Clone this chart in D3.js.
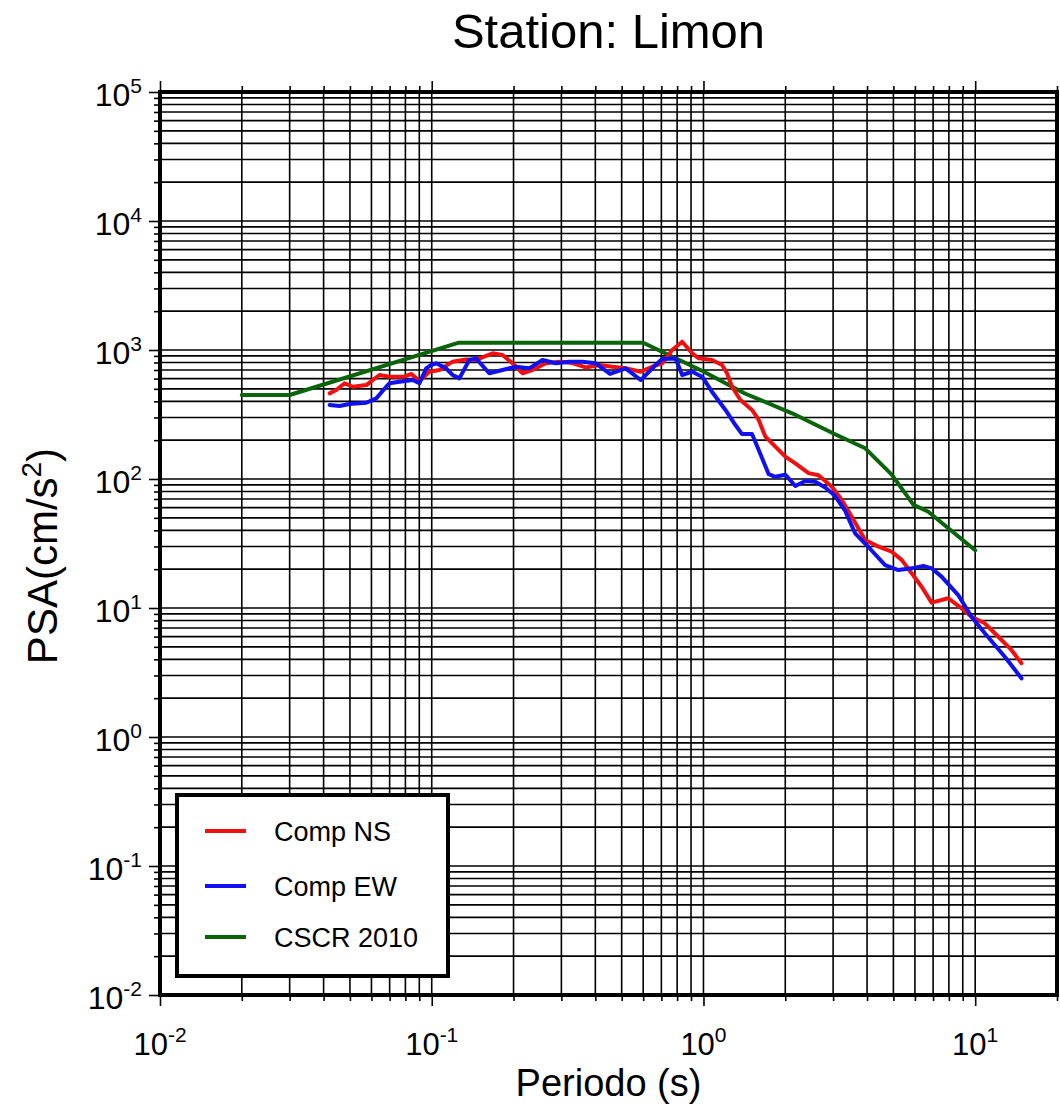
<!DOCTYPE html>
<html><head><meta charset="utf-8">
<script src="https://cdn.jsdelivr.net/npm/d3@7"></script>
<style>
body{margin:0;background:#fff}
text{font-family:"Liberation Sans",Arial,Helvetica,sans-serif;fill:#000}
</style>
</head><body>
<svg id="c" width="1060" height="1107"></svg>
<script>
// ---------------- DATA ----------------
const title = "Station: Limon";
const xTitle = "Periodo (s)";
const yTitleMain = "PSA(cm/s", yTitleSup = "2", yTitleEnd = ")";
const seriesNames = ["Comp NS", "Comp EW", "CSCR 2010"];
const seriesColors = ["#f01010", "#1010f0", "#0a640a"];

const periodNS = [0.0421,0.0445,0.0478,0.0513,0.0574,0.0642,0.0699,0.0793,0.0842,0.0901,0.098,0.1067,0.1194,0.1337,0.1447,0.1675,0.1822,0.1983,0.2159,0.2349,0.263,0.2943,0.3294,0.3687,0.4127,0.4618,0.5172,0.5873,0.6477,0.7048,0.7672,0.8348,0.9085,0.9614,1.076,1.171,1.221,1.274,1.368,1.509,1.597,1.69,1.839,2.001,2.178,2.437,2.651,2.968,3.229,3.514,3.936,4.405,4.928,5.363,5.837,6.351,6.913,7.96,8.907,9.69,10.85,11.81,13.59,14.8];
const psaNS = [461,490,552,519,535,640,621,621,652,575,679,700,812,844,836,943,915,789,660,700,789,812,793,732,765,742,721,679,742,789,1000,1160,943,862,836,765,660,519,410,343,287,213,178,149,132,111,107,87.1,68.7,51.0,33.7,29.9,27.3,23.6,18.6,14.6,11.0,11.9,9.94,8.56,7.61,6.37,4.73,3.73];

const periodEW = [0.0421,0.0458,0.0498,0.0574,0.0625,0.068,0.0699,0.0761,0.0851,0.0901,0.0954,0.0995,0.1038,0.1129,0.1194,0.1264,0.1375,0.1455,0.1628,0.1822,0.2041,0.2284,0.2556,0.2862,0.3202,0.3584,0.4014,0.453,0.5172,0.5873,0.6668,0.7048,0.7897,0.8348,0.9085,0.9886,1.076,1.205,1.311,1.386,1.509,1.597,1.738,1.839,2.001,2.178,2.37,2.579,2.806,3.053,3.323,3.616,4.047,4.66,5.216,5.837,6.444,6.913,7.52,8.66,9.69,10.85,12.85,14.8];
const psaEW = [375,368,381,390,422,519,552,568,585,552,721,765,789,721,640,603,836,862,660,700,742,721,836,789,812,812,789,652,721,585,765,852,859,640,679,621,473,343,262,223,223,168,109,104,108,88.3,96.5,95.3,85.9,73.8,56.5,37.9,29.7,21.5,19.7,20.3,21.2,20.3,17.5,12.6,8.56,6.37,4.19,2.85];

const periodCSCR = [0.02,0.03,0.125,0.6,1.0,1.42,2.12,3.05,3.94,4.93,5.93,6.7,10];
const psaCSCR = [448,448,1137,1137,682,460,323,222,173,108,63,56,28];

const xExponents = [-2,-1,0,1];
const yExponents = [-2,-1,0,1,2,3,4,5];
const xDomain = [0.01, 20];
const yDomain = [0.01, 1e5];

// ---------------- LAYOUT ----------------
const L = 160, R = 1057, T = 92, B = 995;
const svg = d3.select("#c");
const x = d3.scaleLog().domain(xDomain).range([L, R]);
const y = d3.scaleLog().domain(yDomain).range([B, T]);

const isMajor = v => Math.abs(Math.log10(v) - Math.round(Math.log10(v))) < 1e-9;
const xTicks = x.ticks();
const yTicks = y.ticks();

// grid
const grid = svg.append("g").attr("stroke", "#000").attr("stroke-width", 1.6);
grid.selectAll("line.v").data(xTicks).join("line")
  .attr("x1", d => x(d)).attr("x2", d => x(d)).attr("y1", T).attr("y2", B);
grid.selectAll("line.h").data(yTicks).join("line")
  .attr("y1", d => y(d)).attr("y2", d => y(d)).attr("x1", L).attr("x2", R);

// axes with outer ticks
function styleTicks(g, dir) {
  g.select(".domain").remove();
  g.selectAll(".tick line").attr("stroke", "#000").attr("stroke-width", 1.6)
    .each(function(d){
      const len = isMajor(d) ? 11 : 6;
      const s = d3.select(this);
      if (dir === "b") s.attr("y2", len);
      if (dir === "t") s.attr("y2", -len);
      if (dir === "l") s.attr("x2", -len);
    });
  g.selectAll(".tick text").remove();
}
svg.append("g").attr("transform", `translate(0,${B})`)
  .call(d3.axisBottom(x).tickValues(xTicks).tickFormat("")).call(g => styleTicks(g, "b"));
svg.append("g").attr("transform", `translate(0,${T})`)
  .call(d3.axisTop(x).tickValues(xTicks).tickFormat("")).call(g => styleTicks(g, "t"));
svg.append("g").attr("transform", `translate(${L},0)`)
  .call(d3.axisLeft(y).tickValues(yTicks).tickFormat("")).call(g => styleTicks(g, "l"));

// frame
svg.append("rect").attr("x", L).attr("y", T).attr("width", R - L).attr("height", B - T)
  .attr("fill", "none").attr("stroke", "#000").attr("stroke-width", 4);

// tick labels
const fmtExp = e => (e < 0 ? "-" + Math.abs(e) : String(e));
const xl = svg.append("g");
xExponents.forEach(e => {
  const t = xl.append("text").attr("x", x(Math.pow(10, e))).attr("y", 1055)
    .attr("text-anchor", "middle").attr("font-size", 31);
  t.append("tspan").text("10");
  t.append("tspan").attr("font-size", 21).attr("dy", -13).text(fmtExp(e));
});
const yl = svg.append("g");
yExponents.forEach(e => {
  const t = yl.append("text").attr("x", 142).attr("y", y(Math.pow(10, e)) + 14)
    .attr("text-anchor", "end").attr("font-size", 32);
  t.append("tspan").text("10");
  t.append("tspan").attr("font-size", 21).attr("dy", -13).text(fmtExp(e));
});

// titles
svg.append("text").attr("x", (L + R) / 2).attr("y", 48).attr("text-anchor", "middle")
  .attr("font-size", 49).text(title);
svg.append("text").attr("x", (L + R) / 2).attr("y", 1096).attr("text-anchor", "middle")
  .attr("font-size", 38).text(xTitle);
const yt = svg.append("text").attr("transform", "translate(57,556) rotate(-90)")
  .attr("text-anchor", "middle").attr("font-size", 42);
yt.append("tspan").text(yTitleMain);
yt.append("tspan").attr("font-size", 28).attr("dy", -16).text(yTitleSup);
yt.append("tspan").attr("dy", 16).text(yTitleEnd);

// curves
const line = d3.line().x(d => x(d[0])).y(d => y(d[1]));
const series = [
  d3.zip(periodNS, psaNS),
  d3.zip(periodEW, psaEW),
  d3.zip(periodCSCR, psaCSCR)
];
const drawOrder = [2, 0, 1];
drawOrder.forEach(i => {
  svg.append("path").datum(series[i]).attr("d", line)
    .attr("fill", "none").attr("stroke", seriesColors[i]).attr("stroke-width", 4)
    .attr("stroke-linejoin", "round").attr("stroke-linecap", "round");
});

// legend
const lg = svg.append("g");
lg.append("rect").attr("x", 177).attr("y", 795).attr("width", 271).attr("height", 181)
  .attr("fill", "#fff").attr("stroke", "#000").attr("stroke-width", 4);
const rowY = [831, 886, 937];
seriesNames.forEach((n, i) => {
  lg.append("line").attr("x1", 205).attr("x2", 246).attr("y1", rowY[i]).attr("y2", rowY[i])
    .attr("stroke", seriesColors[i]).attr("stroke-width", 4);
  lg.append("text").attr("x", 274).attr("y", rowY[i] + 10).attr("font-size", 27).text(n);
});
</script>
</body></html>
